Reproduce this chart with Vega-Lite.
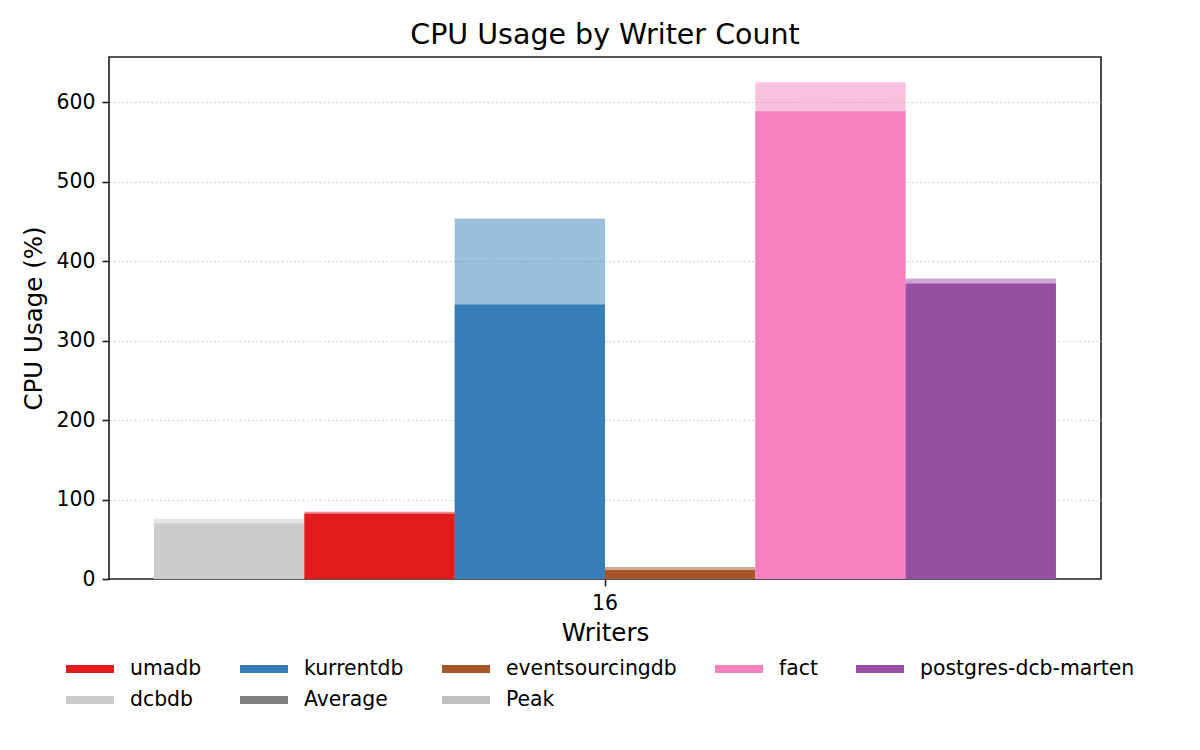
{
  "$schema": "https://vega.github.io/schema/vega-lite/v6.json",
  "width": 992,
  "height": 522,
  "autosize": {"type": "none"},
  "padding": {"left": 109, "top": 57, "right": 99, "bottom": 171},
  "background": "white",
  "title": {
    "text": "CPU Usage by Writer Count",
    "font": "DejaVu Sans",
    "fontSize": 28.5,
    "fontWeight": "normal",
    "color": "black",
    "anchor": "middle",
    "offset": 8
  },
  "data": {
    "values": [
      {"writers": "16", "db": "dcbdb", "avg": 70.3, "peak": 75.8},
      {"writers": "16", "db": "umadb", "avg": 82.0, "peak": 84.5},
      {"writers": "16", "db": "kurrentdb", "avg": 345.6, "peak": 453.8},
      {"writers": "16", "db": "eventsourcingdb", "avg": 11.3, "peak": 15.1},
      {"writers": "16", "db": "fact", "avg": 588.7, "peak": 625.2},
      {"writers": "16", "db": "postgres-dcb-marten", "avg": 371.8, "peak": 378.2}
    ]
  },
  "encoding": {
    "x": {
      "field": "writers",
      "type": "nominal",
      "scale": {"paddingInner": 0, "paddingOuter": 0.05},
      "axis": {"title": "Writers", "labelAngle": 0}
    },
    "xOffset": {
      "field": "db",
      "type": "nominal",
      "scale": {
        "domain": ["dcbdb", "umadb", "kurrentdb", "eventsourcingdb", "fact", "postgres-dcb-marten"],
        "paddingInner": 0,
        "paddingOuter": 0
      }
    },
    "color": {
      "field": "db",
      "type": "nominal",
      "scale": {
        "domain": ["umadb", "kurrentdb", "eventsourcingdb", "fact", "postgres-dcb-marten", "dcbdb", "Average", "Peak"],
        "range": ["#e41a1c", "#377eb8", "#a65628", "#f781bf", "#984ea3", "#cccccc", "#808080", "#bfbfbf"]
      },
      "legend": {
        "title": null,
        "orient": "none",
        "legendX": -43,
        "legendY": 600,
        "direction": "horizontal",
        "columns": 5,
        "columnPadding": 38,
        "rowPadding": 7,
        "clipHeight": 24,
        "symbolType": "M-1,-0.1667H1V0.1667H-1Z",
        "symbolSize": 2304,
        "symbolStrokeWidth": 0,
        "symbolOpacity": 1,
        "labelOffset": 16,
        "labelLimit": 0,
        "labelFont": "DejaVu Sans",
        "labelFontSize": 20.4,
        "labelColor": "black",
        "padding": 0
      }
    }
  },
  "layer": [
    {
      "mark": {"type": "bar", "opacity": 0.5},
      "encoding": {
        "y": {
          "field": "peak",
          "type": "quantitative",
          "scale": {"domain": [0, 657], "nice": false, "zero": true},
          "axis": {
            "title": "CPU Usage (%)",
            "values": [0, 100, 200, 300, 400, 500, 600],
            "gridOpacity": {"condition": {"test": "datum.value === 0", "value": 0}, "value": 1}
          }
        }
      }
    },
    {
      "mark": {"type": "bar", "opacity": 1},
      "encoding": {
        "y": {"field": "avg", "type": "quantitative"}
      }
    }
  ],
  "config": {
    "view": {"stroke": "#1f1f1f", "strokeWidth": 1.6},
    "bar": {"strokeWidth": 0},
    "axis": {
      "domain": false,
      "tickColor": "#1f1f1f",
      "tickWidth": 1.6,
      "tickSize": 7,
      "labelPadding": 7,
      "labelFont": "DejaVu Sans",
      "labelFontSize": 20.4,
      "labelColor": "black",
      "titleFont": "DejaVu Sans",
      "titleFontSize": 24.5,
      "titleFontWeight": "normal",
      "titleColor": "black",
      "grid": false
    },
    "axisX": {"titlePadding": 8},
    "axisY": {
      "grid": true,
      "gridColor": "#c8c8c8",
      "gridDash": [1.6, 2.6],
      "gridWidth": 1.2,
      "titlePadding": 10,
      "zindex": 1
    }
  }
}
